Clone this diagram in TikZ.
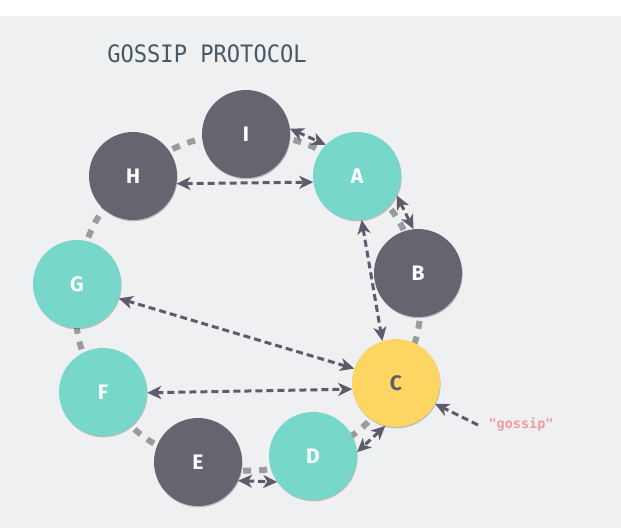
\documentclass[tikz,border=0pt]{standalone}
\usepackage{fontspec}
\setmainfont{Fira Sans}
\newfontfamily\titlefont[FakeStretch=0.92]{DejaVu Sans Mono}
\newfontfamily\monofont{DejaVu Sans Mono}
\usetikzlibrary{arrows.meta,shadows}
\definecolor{bgc}{HTML}{EFF0F2}
\definecolor{tealc}{HTML}{77D7CB}
\definecolor{darkc}{HTML}{67646F}
\definecolor{yellowc}{HTML}{FDD562}
\definecolor{ringc}{HTML}{9B9B9B}
\definecolor{arrowc}{HTML}{5F5B6C}
\definecolor{titlec}{HTML}{485963}
\definecolor{pinkc}{HTML}{F19C9C}
\pgfdeclarelayer{back}
\pgfsetlayers{back,main}
\begin{document}
\begin{tikzpicture}[x=1pt,y=1pt,
  peer/.style={circle, minimum size=88pt, inner sep=0pt,
    font=\fontsize{21}{21}\selectfont\bfseries, text=white,
    drop shadow={shadow xshift=0.6pt, shadow yshift=-1.3pt, opacity=0.22, fill=black}},
  peerT/.style={peer, fill=tealc},
  peerD/.style={peer, fill=darkc},
  peerY/.style={peer, fill=yellowc, text=arrowc},
  ring/.style={draw=ringc, line width=6pt, dash pattern=on 8pt off 8pt},
  msg/.style={draw=arrowc, line width=3pt, dash pattern=on 7pt off 4pt,
    {Stealth[length=14pt,width=13pt,inset=4pt]}-{Stealth[length=14pt,width=13pt,inset=4pt]}},
  msgone/.style={draw=arrowc, line width=3pt, dash pattern=on 7pt off 4pt,
    -{Stealth[length=14pt,width=13pt,inset=4pt]}}
]
\useasboundingbox (0,0) rectangle (621,-528);

\node[font=\titlefont\fontsize{24}{24}\selectfont, text=titlec] (title) at (207,-54) {GOSSIP PROTOCOL};

\node[peerD] (I) at (246,-134) {I};
\node[peerT] (A) at (357,-176) {A};
\node[peerD] (B) at (418,-273) {B};
\node[peerY] (C) at (396,-383) {C};
\node[peerT] (D) at (313,-456) {D};
\node[peerD] (E) at (198,-462) {E};
\node[peerT] (F) at (103,-392) {F};
\node[peerT] (G) at (77,-284) {G};
\node[peerD] (H) at (133,-176) {H};

\begin{pgfonlayer}{back}
\fill[white] (0,0) rectangle (621,-16);
\fill[bgc] (0,-16) rectangle (621,-528);
\draw[ring] (I.center) to[bend left=20] (A.center);
\draw[ring] (A.center) to[bend left=20] (B.center);
\draw[ring] (B.center) to[bend left=20] (C.center);
\draw[ring] (C.center) to[bend left=20] (D.center);
\draw[ring] (D.center) to[bend left=20] (E.center);
\draw[ring] (E.center) to[bend left=20] (F.center);
\draw[ring] (F.center) to[bend left=20] (G.center);
\draw[ring] (G.center) to[bend left=20] (H.center);
\draw[ring] (H.center) to[bend left=20] (I.center);
\end{pgfonlayer}

\draw[msg] (I.7) -- (A.135);
\draw[msg] (H.-10) -- (A.188);
\draw[msg] (A.-26) -- (B.96);
\draw[msg] (A.-84) -- (C.108);
\draw[msg] (G.-19) -- (C.161);
\draw[msg] (F.-1) -- (C.188);
\draw[msg] (C.256) -- (D.5);
\draw[msg] (E.-25) -- (D.216);

\node[font=\monofont\bfseries\fontsize{13.5}{13.5}\selectfont, text=pinkc, anchor=west] (gossip) at (485,-424) {"gossip"};
\coordinate (gsrc) at (478,-425);
\draw[msgone] (gsrc) -- (C.-28);
\end{tikzpicture}
\end{document}
